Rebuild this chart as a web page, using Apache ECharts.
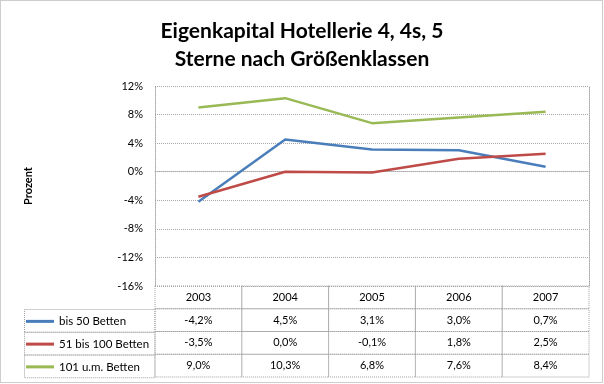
<!DOCTYPE html>
<html>
<head>
<meta charset="utf-8">
<script src="https://cdn.jsdelivr.net/npm/echarts@6/dist/echarts.min.js"></script>
<style>
html,body{margin:0;padding:0;background:#fff;}
#c{width:604px;height:384px;}
</style>
</head>
<body>
<div id="c"></div>
<script>
const years = ['2003', '2004', '2005', '2006', '2007'];
const seriesNames = ['bis 50 Betten', '51 bis 100 Betten', '101 u.m. Betten'];
const bis50 = [-4.2, 4.5, 3.1, 3.0, 0.7];
const bis100 = [-3.5, 0.0, -0.1, 1.8, 2.5];
const ab101 = [9.0, 10.3, 6.8, 7.6, 8.4];
const yMin = -16, yMax = 12, yStep = 4;

const allValues = [bis50, bis100, ab101];
const colors = ['#4a7ebb', '#be4b48', '#98b954'];
const FONT = 'Lato';
const fmt = v => v.toFixed(1).replace('.', ',') + '%';

const cell = {
  width: 86.8, height: 22.75, lineHeight: 22.75, align: 'center',
  borderColor: '#a0a0a0', borderWidth: 1, borderType: 'dotted',
  fontSize: 11, fontFamily: FONT, color: '#000'
};

const chart = echarts.init(document.getElementById('c'), null, {renderer: 'canvas'});
const dotted = {type: 'dotted', color: '#a8a8a8', width: 1};
const leftX = 24.5, rowTop = 309, rowH = 22.75, colW = 130.5;

const gfx = [
  {type: 'rect', shape: {x: 0.5, y: 0.5, width: 602, height: 382},
   style: {fill: 'none', stroke: '#9a9a9a', lineWidth: 1, lineDash: [1, 1]}}
];
for (let i = 0; i < 3; i++) {
  gfx.push({type: 'rect', shape: {x: leftX, y: rowTop + i * rowH + 0.5, width: colW, height: rowH},
    style: {fill: 'none', stroke: '#a0a0a0', lineWidth: 1, lineDash: [1, 1]}});
}

chart.setOption({
  animation: false,
  title: {
    text: 'Eigenkapital Hotellerie 4, 4s, 5\nSterne nach Größenklassen',
    left: 'center', top: 12,
    textStyle: {fontFamily: FONT, fontSize: 21, fontWeight: 'bold', lineHeight: 28, color: '#000'}
  },
  legend: {
    orient: 'vertical', left: 26, top: rowTop + 1, itemGap: 0, padding: 0,
    itemWidth: 28, itemHeight: 3, icon: 'rect', selectedMode: false,
    data: seriesNames,
    textStyle: {fontFamily: FONT, fontSize: 11.5, color: '#000', lineHeight: 22.75, height: 22.75}
  },
  grid: {left: 155, right: 15, top: 86, bottom: 98},
  xAxis: {
    type: 'category', data: years, boundaryGap: true,
    axisLine: {show: true, lineStyle: dotted},
    axisTick: {show: false},
    axisLabel: {
      margin: 0, interval: 0,
      formatter: (v, idx) => ['{c|' + v + '}'].concat(allValues.map(a => '{c|' + fmt(a[idx]) + '}')).join('\n'),
      rich: {c: cell}
    }
  },
  yAxis: [{
    type: 'value', min: yMin, max: yMax, interval: yStep,
    name: 'Prozent', nameLocation: 'middle', nameRotate: 90, nameGap: 121,
    nameTextStyle: {fontFamily: FONT, fontSize: 11, fontWeight: 'bold', color: '#000'},
    axisLine: {show: true, lineStyle: dotted},
    axisTick: {show: false},
    axisLabel: {formatter: v => v + '%', fontFamily: FONT, fontSize: 11, color: '#000', margin: 12},
    splitLine: {show: true, lineStyle: dotted}
  }, {
    type: 'value', min: yMin, max: yMax, interval: yStep, position: 'right',
    axisLine: {show: true, lineStyle: dotted},
    axisTick: {show: false}, axisLabel: {show: false}, splitLine: {show: false}
  }],
  series: seriesNames.map((n, i) => ({
    name: n, type: 'line', data: allValues[i], yAxisIndex: 0,
    symbol: 'none', color: colors[i],
    lineStyle: {width: 2.5, color: colors[i]}
  })),
  graphic: gfx
});
</script>
</body>
</html>
